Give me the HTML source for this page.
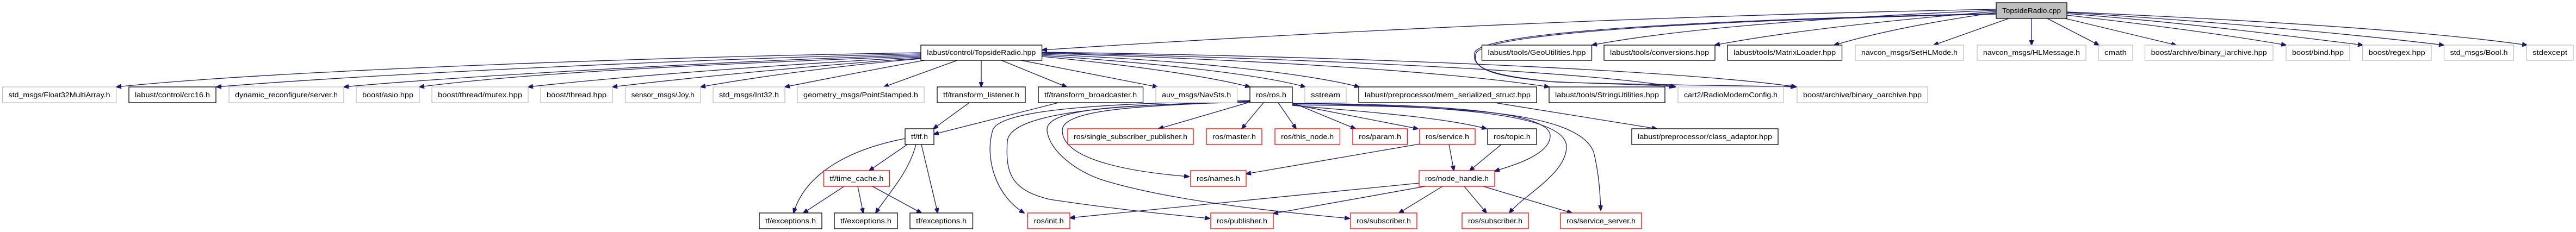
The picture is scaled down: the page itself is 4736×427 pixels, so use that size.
<!DOCTYPE html>
<html><head><meta charset="utf-8"><style>
html,body{margin:0;padding:0;background:#fff;width:4736px;height:427px;overflow:hidden}
svg{display:block}
text{font-family:"Liberation Sans",sans-serif;font-size:12.5px;fill:#000;text-anchor:middle}
.e{fill:none;stroke:#191970;stroke-width:1.3}
.g{fill:#fff;stroke:#bfbfbf;stroke-width:1.3}
.b{fill:#fff;stroke:#000;stroke-width:1.3}
.r{fill:#fff;stroke:#ff0000;stroke-width:1.3}
</style></head><body>
<svg width="4736" height="427" viewBox="0 0 4736 427" xmlns="http://www.w3.org/2000/svg">
<defs><marker id="a" markerUnits="userSpaceOnUse" markerWidth="10" markerHeight="8" refX="9" refY="4" orient="auto"><path d="M0,0 L10,4 L0,8 z" fill="#191970" stroke="#191970"/></marker></defs>
<g class="e" marker-end="url(#a)">
<!-- from cpp -->
<path d="M3670,17 C3000,30 2400,60 1916,92"/>
<path d="M3670,19 C3400,30 3100,50 2927,83"/>
<path d="M3670,21 C3500,35 3300,55 3153,83"/>
<path d="M3670,23 C3550,40 3450,60 3372,83"/>
<path d="M3693,34 L3555,83"/>
<path d="M3735,34 L3735,83"/>
<path d="M3764,34 L3859,83"/>
<path d="M3797,34 L4001,83"/>
<path d="M3800,28 C3950,45 4100,65 4203,83"/>
<path d="M3800,25 C4000,40 4200,65 4344,83"/>
<path d="M3800,23 C4050,38 4300,60 4493,83"/>
<path d="M3800,22 C4100,35 4450,55 4646,83"/>
<path d="M3670,25 C3200,35 2740,55 2712,95 C2700,130 2760,140 2850,150 C2950,155 3050,156 3078,160"/>
<path d="M3670,26 C3200,36 2742,57 2714,97 C2702,132 2762,142 2860,151 C3050,157 3250,158 3301,160"/>
<!-- from hpp -->
<path d="M1693,97 C1200,105 500,130 214,160"/>
<path d="M1693,99 C1300,108 700,135 398,160"/>
<path d="M1693,101 C1350,112 850,140 632,160"/>
<path d="M1693,103 C1400,115 1000,130 771,160"/>
<path d="M1693,105 C1450,118 1150,140 971,160"/>
<path d="M1693,107 C1500,120 1250,145 1126,160"/>
<path d="M1693,108 C1550,120 1400,140 1288,160"/>
<path d="M1700,111 C1620,125 1520,145 1443,160"/>
<path d="M1760,111 L1625,160"/>
<path d="M1804,111 L1804,160"/>
<path d="M1841,111 L1961,160"/>
<path d="M1877,111 L2128,160"/>
<path d="M1916,104 C2080,120 2220,140 2298,160"/>
<path d="M1916,102 C2150,118 2320,138 2400,160"/>
<path d="M1916,100 C2200,112 2400,135 2499,160"/>
<path d="M1916,98 C2300,110 2650,130 2848,160"/>
<path d="M1916,97 C2400,108 2900,130 3081,160"/>
<path d="M1916,96 C2500,104 3100,130 3303,160"/>
<!-- tf -->
<path d="M1782,189 L1716,237"/>
<path d="M1946,189 L1717,247"/>
<path d="M1664,255 C1560,275 1480,320 1459,392"/>
<path d="M1668,266 L1598,314"/>
<path d="M1684,266 C1670,320 1630,360 1610,392"/>
<path d="M1694,266 L1724,392"/>
<path d="M1552,343 L1477,392"/>
<path d="M1577,343 L1587,392"/>
<path d="M1604,343 L1694,392"/>
<!-- ros -->
<path d="M2294,189 L2130,237"/>
<path d="M2323,189 L2283,237"/>
<path d="M2350,189 L2383,237"/>
<path d="M2376,189 L2492,237"/>
<path d="M2376,192 L2607,237"/>
<path d="M2376,194 C2500,205 2650,215 2733,237"/>
<path d="M2376,190 C2600,192 2850,200 2850,250 C2850,285 2780,305 2748,315"/>
<path d="M2376,191 C2620,193 2880,205 2880,270 C2880,320 2800,360 2775,392"/>
<path d="M2376,193 C2650,196 2900,200 2930,280 C2940,320 2942,360 2943,387"/>
<path d="M2298,186 C2150,195 1953,195 1953,240 C1953,290 2060,315 2186,325"/>
<path d="M2298,185 C2100,190 1838,195 1825,240 C1810,290 1830,360 1883,392"/>
<path d="M2298,187 C2100,192 1857,200 1852,260 C1848,320 1860,350 1930,367 C2050,385 2150,395 2224,402"/>
<path d="M2298,188 C2100,193 1921,195 1925,240 C1930,280 1980,315 2023,330 C2150,370 2350,390 2481,402"/>
<path d="M2610,265 L2291,320"/>
<path d="M2664,266 L2673,314"/>
<path d="M2760,266 L2702,314"/>
<path d="M2609,337 L1967,401"/>
<path d="M2620,343 L2341,393"/>
<path d="M2652,343 L2572,392"/>
<path d="M2692,343 L2733,392"/>
<path d="M2727,343 L2890,392"/>
<path d="M2748,189 L3046,237"/>
</g>
<!-- nodes -->
<rect x="3670" y="5" width="130" height="29" fill="#bfbfbf" stroke="#000" stroke-width="1.3"/><text x="3735" y="24" textLength="108" lengthAdjust="spacingAndGlyphs">TopsideRadio.cpp</text>
<g>
<rect class="b" x="1693" y="83" width="222.6" height="28"/><text x="1804.3" y="101" textLength="200" lengthAdjust="spacingAndGlyphs">labust/control/TopsideRadio.hpp</text>
<rect class="b" x="2724.5" y="83" width="202" height="28"/><text x="2825.5" y="101" textLength="180" lengthAdjust="spacingAndGlyphs">labust/tools/GeoUtilities.hpp</text>
<rect class="b" x="2949" y="83" width="204" height="28"/><text x="3051" y="101" textLength="182" lengthAdjust="spacingAndGlyphs">labust/tools/conversions.hpp</text>
<rect class="b" x="3176" y="83" width="210.5" height="28"/><text x="3281.2" y="101" textLength="188" lengthAdjust="spacingAndGlyphs">labust/tools/MatrixLoader.hpp</text>
<rect class="g" x="3411" y="83" width="199" height="28"/><text x="3510.5" y="101" textLength="177" lengthAdjust="spacingAndGlyphs">navcon_msgs/SetHLMode.h</text>
<rect class="g" x="3635" y="83" width="200" height="28"/><text x="3735" y="101" textLength="178" lengthAdjust="spacingAndGlyphs">navcon_msgs/HLMessage.h</text>
<rect class="g" x="3858" y="83" width="63" height="28"/><text x="3889.5" y="101" textLength="41" lengthAdjust="spacingAndGlyphs">cmath</text>
<rect class="g" x="3943.5" y="83" width="235.5" height="28"/><text x="4061.2" y="101" textLength="213" lengthAdjust="spacingAndGlyphs">boost/archive/binary_iarchive.hpp</text>
<rect class="g" x="4203" y="83" width="117" height="28"/><text x="4261.5" y="101" textLength="95" lengthAdjust="spacingAndGlyphs">boost/bind.hpp</text>
<rect class="g" x="4343.5" y="83" width="126.5" height="28"/><text x="4406.7" y="101" textLength="104" lengthAdjust="spacingAndGlyphs">boost/regex.hpp</text>
<rect class="g" x="4493.5" y="83" width="128" height="28"/><text x="4557.5" y="101" textLength="106" lengthAdjust="spacingAndGlyphs">std_msgs/Bool.h</text>
<rect class="g" x="4645" y="83" width="86" height="28"/><text x="4688" y="101" textLength="64" lengthAdjust="spacingAndGlyphs">stdexcept</text>

<rect class="g" x="4.6" y="160" width="209" height="29"/><text x="109" y="179" textLength="187" lengthAdjust="spacingAndGlyphs">std_msgs/Float32MultiArray.h</text>
<rect class="b" x="237" y="160" width="160" height="29"/><text x="317" y="179" textLength="138" lengthAdjust="spacingAndGlyphs">labust/control/crc16.h</text>
<rect class="g" x="421" y="160" width="211" height="29"/><text x="526.5" y="179" textLength="189" lengthAdjust="spacingAndGlyphs">dynamic_reconfigure/server.h</text>
<rect class="g" x="655" y="160" width="116" height="29"/><text x="713" y="179" textLength="94" lengthAdjust="spacingAndGlyphs">boost/asio.hpp</text>
<rect class="g" x="794" y="160" width="177" height="29"/><text x="882.5" y="179" textLength="155" lengthAdjust="spacingAndGlyphs">boost/thread/mutex.hpp</text>
<rect class="g" x="994" y="160" width="132" height="29"/><text x="1060" y="179" textLength="110" lengthAdjust="spacingAndGlyphs">boost/thread.hpp</text>
<rect class="g" x="1149.5" y="160" width="138.5" height="29"/><text x="1218.7" y="179" textLength="116" lengthAdjust="spacingAndGlyphs">sensor_msgs/Joy.h</text>
<rect class="g" x="1311" y="160" width="132" height="29"/><text x="1377" y="179" textLength="110" lengthAdjust="spacingAndGlyphs">std_msgs/Int32.h</text>
<rect class="g" x="1466" y="160" width="233" height="29"/><text x="1582.5" y="179" textLength="211" lengthAdjust="spacingAndGlyphs">geometry_msgs/PointStamped.h</text>
<rect class="b" x="1723" y="160" width="162" height="29"/><text x="1804" y="179" textLength="140" lengthAdjust="spacingAndGlyphs">tf/transform_listener.h</text>
<rect class="b" x="1909" y="160" width="192.5" height="29"/><text x="2005.2" y="179" textLength="170" lengthAdjust="spacingAndGlyphs">tf/transform_broadcaster.h</text>
<rect class="g" x="2125" y="160" width="149.5" height="29"/><text x="2199.7" y="179" textLength="127" lengthAdjust="spacingAndGlyphs">auv_msgs/NavSts.h</text>
<rect class="b" x="2298" y="160" width="78" height="29"/><text x="2337" y="179" textLength="56" lengthAdjust="spacingAndGlyphs">ros/ros.h</text>
<rect class="g" x="2399" y="160" width="76" height="29"/><text x="2437" y="179" textLength="54" lengthAdjust="spacingAndGlyphs">sstream</text>
<rect class="b" x="2498" y="160" width="327" height="29"/><text x="2661.5" y="179" textLength="305" lengthAdjust="spacingAndGlyphs">labust/preprocessor/mem_serialized_struct.hpp</text>
<rect class="b" x="2848" y="160" width="213" height="29"/><text x="2954.5" y="179" textLength="191" lengthAdjust="spacingAndGlyphs">labust/tools/StringUtilities.hpp</text>
<rect class="g" x="3085" y="160" width="194" height="29"/><text x="3182" y="179" textLength="172" lengthAdjust="spacingAndGlyphs">cart2/RadioModemConfig.h</text>
<rect class="g" x="3304" y="160" width="240" height="29"/><text x="3424" y="179" textLength="218" lengthAdjust="spacingAndGlyphs">boost/archive/binary_oarchive.hpp</text>

<rect class="b" x="1664" y="237" width="53" height="29"/><text x="1690.5" y="256" textLength="31" lengthAdjust="spacingAndGlyphs">tf/tf.h</text>
<rect class="r" x="1963" y="237" width="231" height="29"/><text x="2078.5" y="256" textLength="209" lengthAdjust="spacingAndGlyphs">ros/single_subscriber_publisher.h</text>
<rect class="r" x="2218" y="237" width="102" height="29"/><text x="2269" y="256" textLength="80" lengthAdjust="spacingAndGlyphs">ros/master.h</text>
<rect class="r" x="2344" y="237" width="119.5" height="29"/><text x="2403.7" y="256" textLength="97" lengthAdjust="spacingAndGlyphs">ros/this_node.h</text>
<rect class="r" x="2487" y="237" width="100.5" height="29"/><text x="2537.2" y="256" textLength="78" lengthAdjust="spacingAndGlyphs">ros/param.h</text>
<rect class="r" x="2610" y="237" width="102" height="29"/><text x="2661" y="256" textLength="80" lengthAdjust="spacingAndGlyphs">ros/service.h</text>
<rect class="b" x="2735" y="237" width="90" height="29"/><text x="2780" y="256" textLength="68" lengthAdjust="spacingAndGlyphs">ros/topic.h</text>
<rect class="b" x="3000" y="237" width="269" height="29"/><text x="3134.5" y="256" textLength="247" lengthAdjust="spacingAndGlyphs">labust/preprocessor/class_adaptor.hpp</text>

<rect class="r" x="1514.5" y="314" width="121" height="29"/><text x="1575" y="333" textLength="99" lengthAdjust="spacingAndGlyphs">tf/time_cache.h</text>
<rect class="r" x="2189" y="314" width="102" height="29"/><text x="2240" y="333" textLength="80" lengthAdjust="spacingAndGlyphs">ros/names.h</text>
<rect class="r" x="2609" y="314" width="139" height="29"/><text x="2678.5" y="333" textLength="117" lengthAdjust="spacingAndGlyphs">ros/node_handle.h</text>

<rect class="b" x="1396" y="392" width="115" height="29"/><text x="1453.5" y="411" textLength="93" lengthAdjust="spacingAndGlyphs">tf/exceptions.h</text>
<rect class="b" x="1534" y="392" width="116" height="29"/><text x="1592" y="411" textLength="94" lengthAdjust="spacingAndGlyphs">tf/exceptions.h</text>
<rect class="b" x="1673" y="392" width="115.5" height="29"/><text x="1730.7" y="411" textLength="93" lengthAdjust="spacingAndGlyphs">tf/exceptions.h</text>
<rect class="r" x="1889.5" y="392" width="77.5" height="29"/><text x="1928.2" y="411" textLength="55" lengthAdjust="spacingAndGlyphs">ros/init.h</text>
<rect class="r" x="2226" y="392" width="115" height="29"/><text x="2283.5" y="411" textLength="93" lengthAdjust="spacingAndGlyphs">ros/publisher.h</text>
<rect class="r" x="2483" y="392" width="122" height="29"/><text x="2544" y="411" textLength="100" lengthAdjust="spacingAndGlyphs">ros/subscriber.h</text>
<rect class="r" x="2688" y="392" width="122" height="29"/><text x="2749" y="411" textLength="100" lengthAdjust="spacingAndGlyphs">ros/subscriber.h</text>
<rect class="r" x="2869" y="392" width="149" height="29"/><text x="2943.5" y="411" textLength="127" lengthAdjust="spacingAndGlyphs">ros/service_server.h</text>
</g>
</svg>
</body></html>
